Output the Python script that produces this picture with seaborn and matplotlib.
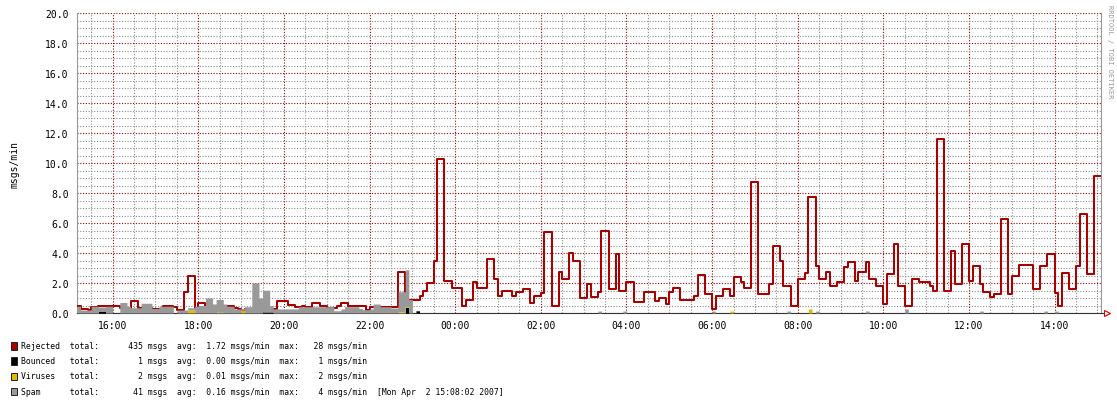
import numpy as np
import pandas as pd
import matplotlib
matplotlib.use("Agg")
import matplotlib.pyplot as plt
import seaborn as sns
from matplotlib.ticker import FixedLocator, MultipleLocator, FuncFormatter
from matplotlib.patches import Rectangle

# ---------------- data (5-minute bins starting 15:10) ----------------
BIN_MINUTES = 5
FIRST_TICK_OFFSET = 50   # minutes from first bin (15:10) to 16:00

rejected = [
    0.5, 0.3, 0.25, 0.2, 0.4, 0.4, 0.45, 0.45, 0.45, 0.45, 0.5, 0.5,
    0.35, 0.35, 0.35, 0.8, 0.8, 0.35, 0.35, 0.35, 0.35, 0.3, 0.3, 0.2,
    0.45, 0.45, 0.45, 0.4, 0.2, 0.2, 1.4, 2.45, 2.45, 0.35, 0.65, 0.65,
    0.45, 0.45, 0.45, 0.45, 0.45, 0.45, 0.45, 0.45, 0.35, 0.3, 0.22, 0.3,
    0.3, 0.3, 0.3, 0.3, 0.3, 0.3, 0.3, 0.3, 0.8, 0.8, 0.8, 0.55,
    0.55, 0.4, 0.4, 0.5, 0.4, 0.4, 0.65, 0.65, 0.5, 0.5, 0.35, 0.35,
    0.35, 0.5, 0.65, 0.65, 0.5, 0.5, 0.5, 0.5, 0.5, 0.22, 0.4, 0.4,
    0.4, 0.4, 0.4, 0.4, 0.4, 0.4, 2.75, 2.75, 0.9, 0.9, 0.9, 0.9,
    1.15, 1.45, 2.0, 2.0, 3.5, 10.3, 10.3, 2.15, 2.15, 1.65, 1.65, 1.65,
    0.45, 0.9, 0.9, 2.05, 1.65, 1.65, 1.65, 3.6, 3.6, 2.25, 1.15, 1.5,
    1.5, 1.5, 1.15, 1.4, 1.4, 1.6, 1.6, 0.7, 1.15, 1.15, 1.35, 5.4,
    5.4, 0.45, 0.45, 2.75, 2.25, 2.25, 4.0, 3.5, 3.5, 1.0, 1.0, 1.95,
    1.05, 1.05, 1.4, 5.5, 5.5, 1.6, 1.6, 3.95, 1.5, 1.5, 2.1, 2.1,
    0.75, 0.75, 0.75, 1.4, 1.4, 1.4, 0.8, 1.0, 1.0, 0.6, 1.4, 1.7,
    1.7, 0.9, 0.9, 0.9, 0.9, 1.15, 2.55, 2.55, 1.25, 1.25, 0.27, 1.15,
    1.15, 1.6, 1.6, 1.15, 2.4, 2.4, 2.05, 1.65, 1.65, 8.75, 8.75, 1.3,
    1.3, 1.3, 1.95, 4.45, 4.45, 3.5, 1.8, 1.8, 0.5, 0.5, 2.3, 2.3,
    2.7, 7.75, 7.75, 3.15, 2.3, 2.3, 2.75, 1.8, 1.8, 2.1, 2.1, 3.05,
    3.4, 3.4, 2.15, 2.75, 2.75, 3.4, 2.25, 2.25, 1.8, 1.8, 0.6, 2.6,
    2.6, 4.6, 1.8, 1.8, 0.5, 0.5, 2.25, 2.25, 2.1, 2.1, 2.1, 1.8,
    1.5, 11.6, 11.6, 1.5, 1.5, 4.15, 1.95, 1.95, 4.6, 4.6, 2.15, 3.15,
    3.15, 1.95, 1.4, 1.4, 1.05, 1.3, 1.3, 6.25, 6.25, 1.3, 2.45, 2.45,
    3.2, 3.2, 3.2, 3.2, 1.6, 1.6, 3.15, 3.15, 3.95, 3.95, 1.35, 0.5,
    2.7, 2.7, 1.6, 1.6, 3.15, 6.6, 6.6, 2.6, 2.6, 9.15, 9.15,
]

spam = [
    0.45, 0.2, 0.2, 0.2, 0.45, 0.45, 0.3, 0.3, 0.45, 0.45, 0, 0,
    0.7, 0.7, 0.45, 0.35, 0.35, 0.35, 0.65, 0.65, 0.65, 0.3, 0.3, 0.45,
    0.45, 0.45, 0.45, 0, 0.2, 0.2, 0.2, 0.15, 0.15, 0.45, 0.5, 0.5,
    1.0, 1.0, 0.6, 0.85, 0.85, 0.6, 0.45, 0.45, 0.27, 0.27, 0.1, 0.42,
    0.42, 2.0, 2.0, 1.0, 1.45, 1.45, 0.42, 0.27, 0.27, 0.27, 0.27, 0.27,
    0.27, 0.27, 0.42, 0.42, 0.42, 0.42, 0.42, 0.42, 0.42, 0.42, 0.42, 0.42,
    0.15, 0.15, 0.27, 0.42, 0.42, 0.42, 0.42, 0.3, 0.22, 0.22, 0.27, 0.6,
    0.6, 0.42, 0.42, 0.42, 0.33, 0.33, 1.35, 1.35, 2.45, 0.9, 0, 0,
    0, 0, 0, 0, 0, 0, 0, 0, 0, 0, 0, 0,
    0, 0, 0, 0, 0, 0, 0, 0, 0, 0, 0, 0,
    0, 0, 0, 0, 0, 0, 0, 0, 0, 0, 0, 0,
    0, 0, 0, 0, 0, 0, 0, 0, 0, 0, 0, 0,
    0, 0, 0.13, 0, 0, 0, 0, 0, 0, 0.13, 0, 0,
    0, 0, 0, 0, 0, 0, 0, 0, 0, 0, 0, 0,
    0, 0, 0, 0, 0, 0, 0, 0, 0, 0, 0.13, 0,
    0, 0, 0, 0, 0, 0, 0, 0, 0, 0, 0, 0,
    0, 0, 0, 0, 0, 0, 0, 0.13, 0, 0, 0, 0,
    0, 0, 0, 0.13, 0, 0, 0, 0, 0, 0, 0, 0,
    0, 0, 0, 0, 0, 0.13, 0, 0, 0, 0, 0, 0,
    0, 0, 0, 0, 0.27, 0, 0, 0, 0, 0, 0, 0,
    0, 0, 0, 0, 0, 0, 0, 0, 0, 0, 0, 0,
    0, 0.13, 0, 0, 0, 0, 0, 0, 0, 0, 0, 0,
    0, 0, 0, 0, 0, 0, 0, 0.13, 0, 0, 0.13, 0,
    0, 0, 0, 0, 0, 0, 0, 0, 0, 0, 0,
]

viruses = [
    0, 0, 0, 0, 0, 0, 0, 0, 0, 0, 0, 0,
    0, 0, 0, 0, 0, 0, 0, 0, 0, 0, 0, 0,
    0, 0, 0, 0, 0, 0, 0, 0.2, 0.2, 0, 0, 0,
    0, 0, 0, 0.05, 0.05, 0, 0, 0, 0, 0, 0.2, 0,
    0, 0, 0, 0, 0, 0, 0, 0, 0, 0, 0, 0,
    0, 0, 0, 0, 0, 0, 0, 0, 0, 0, 0, 0,
    0, 0, 0, 0, 0, 0, 0, 0, 0, 0, 0, 0,
    0, 0, 0, 0, 0, 0, 0.07, 0.07, 0.05, 0, 0, 0,
    0, 0, 0, 0, 0, 0, 0, 0, 0, 0, 0, 0,
    0, 0, 0, 0, 0, 0, 0, 0, 0, 0, 0, 0,
    0, 0, 0, 0, 0, 0, 0, 0, 0, 0, 0, 0,
    0, 0, 0, 0, 0, 0, 0, 0, 0, 0, 0, 0,
    0, 0, 0, 0, 0, 0, 0, 0, 0, 0, 0, 0,
    0, 0, 0, 0, 0, 0, 0, 0, 0, 0, 0, 0,
    0, 0, 0, 0, 0, 0, 0, 0, 0, 0, 0, 0,
    0, 0, 0, 0.13, 0, 0, 0, 0, 0, 0, 0, 0,
    0, 0, 0, 0, 0, 0, 0, 0, 0, 0, 0, 0,
    0, 0.27, 0, 0, 0, 0, 0, 0, 0, 0, 0, 0,
    0, 0, 0, 0, 0, 0, 0, 0, 0, 0, 0, 0,
    0, 0, 0, 0, 0, 0, 0, 0, 0, 0, 0, 0,
    0, 0, 0, 0, 0, 0, 0, 0, 0, 0, 0, 0,
    0, 0, 0, 0, 0, 0, 0, 0, 0, 0, 0, 0,
    0, 0, 0, 0, 0, 0, 0, 0, 0, 0, 0, 0,
    0, 0, 0, 0, 0, 0, 0, 0, 0, 0, 0,
]

bounced = [
    0, 0, 0, 0, 0, 0, 0.1, 0.1, 0, 0, 0, 0,
    0, 0, 0, 0, 0, 0, 0, 0, 0, 0, 0, 0,
    0, 0, 0, 0, 0, 0, 0, 0, 0, 0, 0, 0,
    0, 0, 0, 0, 0, 0, 0, 0, 0, 0, 0, 0,
    0, 0, 0, 0, 0.07, 0.07, 0.07, 0, 0, 0, 0, 0,
    0, 0, 0, 0, 0, 0, 0, 0, 0, 0, 0, 0,
    0, 0, 0, 0, 0, 0, 0, 0, 0, 0, 0, 0,
    0, 0, 0, 0, 0, 0, 0, 0, 0.38, 0, 0, 0.15,
    0, 0, 0, 0, 0, 0, 0, 0, 0, 0, 0, 0,
    0, 0, 0, 0, 0, 0, 0, 0, 0, 0, 0, 0,
    0, 0, 0, 0, 0, 0, 0, 0, 0, 0, 0, 0,
    0, 0, 0, 0, 0, 0, 0, 0, 0, 0, 0, 0,
    0, 0, 0, 0, 0, 0, 0, 0, 0, 0, 0, 0,
    0, 0, 0, 0, 0, 0, 0, 0, 0, 0, 0, 0,
    0, 0, 0, 0, 0, 0, 0, 0, 0, 0, 0, 0,
    0, 0, 0, 0, 0, 0, 0, 0, 0, 0, 0, 0,
    0, 0, 0, 0, 0, 0, 0, 0, 0, 0, 0, 0,
    0, 0, 0, 0, 0, 0, 0, 0, 0, 0, 0, 0,
    0, 0, 0, 0, 0, 0, 0, 0, 0, 0, 0, 0,
    0, 0, 0, 0, 0, 0, 0, 0, 0, 0, 0, 0,
    0, 0, 0, 0, 0, 0, 0, 0, 0, 0, 0, 0,
    0, 0, 0, 0, 0, 0, 0, 0, 0, 0, 0, 0,
    0, 0, 0, 0, 0, 0, 0, 0, 0, 0, 0, 0,
    0, 0, 0, 0, 0, 0, 0, 0, 0, 0, 0,
]

xtick_labels = ["16:00", "18:00", "20:00", "22:00", "00:00", "02:00",
                "04:00", "06:00", "08:00", "10:00", "12:00", "14:00"]
ytick_values = [0, 2, 4, 6, 8, 10, 12, 14, 16, 18, 20]

legend_names = ["Rejected", "Bounced", "Viruses", "Spam"]
legend_colors = ["#AA0000", "#000000", "#DDBB00", "#999999"]
legend_totals = [435, 1, 2, 41]
legend_avgs = [1.72, 0.00, 0.01, 0.16]
legend_maxs = [28, 1, 2, 4]
timestamp = "[Mon Apr  2 15:08:02 2007]"
y_label = "msgs/min"
watermark = "RRDTOOL / TOBI OETIKER"

assert len(rejected) == len(spam) == len(viruses) == len(bounced)

# ---------------- figure ----------------
sns.set_style("white")
plt.rcParams["font.family"] = ["DejaVu Sans Mono", "DejaVu Sans"]

W, H = 1117, 406
fig = plt.figure(figsize=(W / 100, H / 100), dpi=100)
fig.patch.set_facecolor("white")
L, R, T, B = 77, 1101, 14, 314
ax = fig.add_axes([L / W, 1 - B / H, (R - L) / W, (B - T) / H])
ax.set_facecolor("white")

n = len(rejected)
t_edges = np.arange(n + 1) * BIN_MINUTES
df = pd.DataFrame({
    "t": t_edges,
    "rejected": rejected + [rejected[-1]],
    "bounced": bounced + [bounced[-1]],
    "viruses": viruses + [viruses[-1]],
    "spam": spam + [spam[-1]],
})

# rejected line (drawn first, like rrdtool LINE2)
sns.lineplot(data=df, x="t", y="rejected", drawstyle="steps-post",
             color="#AA0000", linewidth=1.45, estimator=None, ax=ax,
             legend=False, zorder=3)

# stacked areas: bounced, viruses, spam
b = df["bounced"].to_numpy()
v = df["viruses"].to_numpy()
s = df["spam"].to_numpy()
ax.fill_between(df["t"], 0, b, step="post", color="#000000", lw=0, zorder=4)
ax.fill_between(df["t"], b, b + v, step="post", color="#DDBB00", lw=0, zorder=4)
ax.fill_between(df["t"], b + v, b + v + s, step="post", color="#999999", lw=0, zorder=4)

ax.set_xlim(0, n * BIN_MINUTES)
ax.set_ylim(0, 20)

major_x = [FIRST_TICK_OFFSET + 120 * k for k in range(len(xtick_labels))]
minor_x = [FIRST_TICK_OFFSET - 30 + 30 * k for k in range(int(n * BIN_MINUTES / 30) + 1)]
ax.xaxis.set_major_locator(FixedLocator(major_x))
ax.xaxis.set_minor_locator(FixedLocator(minor_x))
ax.set_xticklabels(xtick_labels)
ax.yaxis.set_major_locator(FixedLocator(ytick_values))
ax.yaxis.set_minor_locator(MultipleLocator(0.5))
ax.yaxis.set_major_formatter(FuncFormatter(lambda y, p: f"{y:.1f}"))

ax.set_axisbelow(True)
ax.grid(which="major", color="#990000", linestyle=(0, (1, 1.5)), linewidth=0.8, zorder=0)
ax.grid(which="minor", color="#8c8c8c", linestyle=(0, (1, 1.5)), linewidth=0.8, zorder=0)

ax.tick_params(axis="both", which="major", direction="out", length=2,
               width=0.8, color="#990000", labelsize=7, labelcolor="black")
ax.tick_params(axis="both", which="minor", direction="out", length=2,
               width=0.8, color="#8c8c8c")
ax.tick_params(axis="x", which="major", pad=3.2)
ax.tick_params(axis="y", which="major", pad=4)

ax.spines["top"].set_visible(False)
ax.spines["left"].set_color("#999999")
ax.spines["left"].set_linewidth(0.8)
ax.spines["right"].set_color("#999999")
ax.spines["right"].set_linewidth(0.8)
ax.spines["bottom"].set_color("#333333")
ax.spines["bottom"].set_linewidth(0.8)

ax.set_xlabel("")
ax.set_ylabel("")

# axis arrow at right end
ax.plot([1.0, 1.006], [0, 0], transform=ax.transAxes, color="#333333",
        lw=0.8, clip_on=False, zorder=5)
ax.plot([1.006], [0.0], transform=ax.transAxes, marker=">", ms=5,
        mfc="white", mec="#DD0000", mew=0.8, clip_on=False, zorder=6)

# y label
fig.text(15 / W, 1 - 165 / H, y_label, rotation=90, ha="center", va="center",
         fontsize=7, color="black")

# watermark
fig.text(1110 / W, 1 - 5 / H, watermark, rotation=270, ha="center", va="top",
         fontsize=5, color="#999999")

# legend rows
row_y = [346.5, 361.8, 377.0, 392.2]
for i, name in enumerate(legend_names):
    y = row_y[i]
    fig.patches.append(Rectangle((10.7 / W, 1 - (y + 4.0) / H), 6.3 / W, 7.5 / H,
                                 transform=fig.transFigure, facecolor=legend_colors[i],
                                 edgecolor="#222222", linewidth=0.7))
    line = (f"{name:<8}  total:  {legend_totals[i]:7d} msgs  avg:  "
            f"{legend_avgs[i]:4.2f} msgs/min  max:  {legend_maxs[i]:3d} msgs/min")
    if i == len(legend_names) - 1:
        line += "  " + timestamp
    fig.text(21 / W, 1 - y / H, line, ha="left", va="center", fontsize=5.9,
             color="black")

fig.savefig("out.png", dpi=100, facecolor="white")
